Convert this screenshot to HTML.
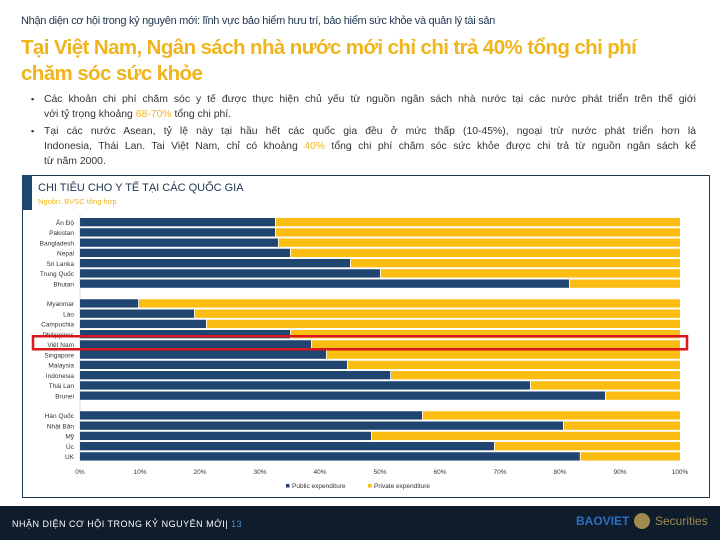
<!DOCTYPE html>
<html><head><meta charset="utf-8">
<style>
body{margin:0;width:720px;height:540px;background:#fff;overflow:hidden;position:relative;font-family:"Liberation Sans","Noto Sans CJK SC",sans-serif;}
.abs{position:absolute;}
#sup{left:21px;top:15px;font-size:11px;color:#1f3550;letter-spacing:-0.3px;white-space:nowrap;}
#title{left:21px;top:35px;font-size:20.5px;line-height:26px;color:#f0b41c;font-weight:bold;letter-spacing:-0.6px;width:650px;}
.bul{left:44px;font-size:10.4px;line-height:15px;color:#333;width:652px;}
.bul:before{content:"▪";position:absolute;left:-13px;font-size:9px;}
.ln{text-align:justify;text-align-last:justify;white-space:nowrap;}
.last{white-space:nowrap;}
.hl{color:#f0b41c;}
#footer{left:0;top:506px;width:720px;height:34px;background:#0f1c2c;}
</style></head><body>
<div id="sup" class="abs">Nhận diện cơ hội trong kỷ nguyên mới: lĩnh vực bảo hiểm hưu trí, bảo hiểm sức khỏe và quản lý tài sản</div>
<div id="title" class="abs">Tại Việt Nam, Ngân sách nhà nước mới chỉ chi trả 40% tổng chi phí chăm sóc sức khỏe</div>
<div class="abs bul" style="top:92px"><div class="ln">Các khoản chi phí chăm sóc y tế được thực hiện chủ yếu từ nguồn ngân sách nhà nước tại các nước phát triển trên thế giới</div><div class="last">với tỷ trọng khoảng <span class="hl">68-70%</span> tổng chi phí.</div></div>
<div class="abs bul" style="top:124px"><div class="ln">Tại các nước Asean, tỷ lệ này tại hầu hết các quốc gia đều ở mức thấp (10-45%), ngoại trừ nước phát triển hơn là</div><div class="ln">Indonesia, Thái Lan. Tai Việt Nam, chỉ có khoảng <span class="hl">40%</span> tổng chi phí chăm sóc sức khỏe được chi trả từ nguồn ngân sách kể</div><div class="last">từ năm 2000.</div></div>
<svg class="abs" style="left:0;top:0" width="720" height="540" id="chart"></svg>
<div id="footer" class="abs">
<div class="abs" style="left:12px;top:13px;font-size:9px;color:#fff;letter-spacing:0.5px">NHẬN DIỆN CƠ HỘI TRONG KỶ NGUYÊN MỚI| <span style="color:#4a8fd6">13</span></div>
<div class="abs" style="left:576px;top:8px;font-size:12px;font-weight:bold;color:#2f6fc0">BAOVIET</div>
<div class="abs" style="left:634px;top:7px;width:16px;height:16px;border-radius:50%;background:#a08a50"></div>
<div class="abs" style="left:655px;top:8px;font-size:12px;color:#a08a50">Securities</div>
</div>
<script>
const countries=["Ấn Độ","Pakistan","Bangladesh","Nepal","Sri Lanka","Trung Quốc","Bhutan","Myanmar","Lào","Campuchia","Philippines","Việt Nam","Singapore","Malaysia","Indonesia","Thái Lan","Brunei","Hàn Quốc","Nhật Bản","Mỹ","Úc","UK"];
const groups=[0,0,0,0,0,0,0,1,1,1,1,1,1,1,1,1,1,2,2,2,2,2];
const publicExp=[32.5,32.5,33,35,45,50,81.5,9.7,19,21,35,38.5,41,44.5,51.7,75,87.5,57,80.5,48.5,69,83.3];
const ticks=[0,10,20,30,40,50,60,70,80,90,100];
const NS="http://www.w3.org/2000/svg";
const svg=document.getElementById('chart');
const x0=80,x1=680;
const xs=v=>x0+(x1-x0)*v/100;
const ys=i=>218+i*10.25+groups[i]*9.5;
function mk(t,a,txt){const e=document.createElementNS(NS,t);for(const k in a)e.setAttribute(k,a[k]);if(txt!==undefined)e.textContent=txt;svg.appendChild(e);return e;}
let e;
e=mk('rect',{x:22.5,y:175.5,width:687,height:322,fill:'none',stroke:'#1f3550','stroke-width':1});

e=mk('rect',{x:22,y:175,width:10,height:35,fill:'#1f4570'});

e=mk('text',{x:38,y:191,'font-size':11,fill:'#1f3550'},'CHI TIÊU CHO Y TẾ TẠI CÁC QUỐC GIA');

e=mk('text',{x:38,y:204,'font-size':7.5,fill:'#f0b41c'},'Nguồn: BVSC tổng hợp');

e=mk('line',{x1:x0,y1:214,x2:x0,y2:462,stroke:'#ddd'});

countries.forEach((c,i)=>{
  const y=ys(i),p=publicExp[i];
  e=mk('rect',{x:xs(0),y:y,width:xs(p)-xs(0),height:8.3,fill:'#1f4570'});
  
  e=mk('rect',{x:xs(p)+0.8,y:y,width:xs(100)-xs(p)-0.8,height:8.3,fill:'#fbbd12'});
  
  e=mk('text',{x:74,y:y+6.8,'font-size':6.5,fill:'#333','text-anchor':'end'},c);
  
});
const vi=countries.indexOf("Việt Nam");
e=mk('rect',{x:33,y:ys(vi)-4,width:654,height:13,fill:'none',stroke:'#d8181c','stroke-width':2.5});

ticks.forEach(t=>{
  e=mk('text',{x:xs(t),y:474,'font-size':6.5,fill:'#333','text-anchor':'middle'},t+'%');
  
});
e=mk('rect',{x:286,y:484,width:3.5,height:3.5,fill:'#1f4570'});

e=mk('text',{x:292,y:488,'font-size':6.5,fill:'#333'},'Public expenditure');

e=mk('rect',{x:368,y:484,width:3.5,height:3.5,fill:'#fbbd12'});

e=mk('text',{x:374,y:488,'font-size':6.5,fill:'#333'},'Private expenditure');

</script>
</body></html>
